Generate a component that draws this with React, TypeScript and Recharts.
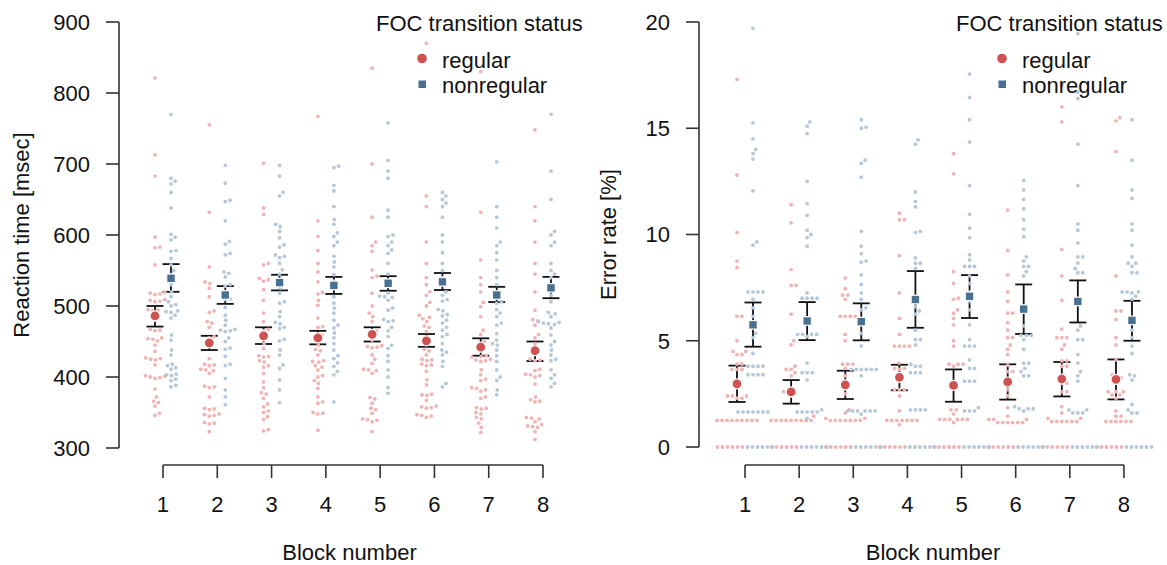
import React from 'react';
import { ComposedChart, Scatter, XAxis, YAxis, ErrorBar, ReferenceLine, Legend } from 'recharts';

const FONT = '"Liberation Sans", Arial, Helvetica, sans-serif';
const RED = '#cf5151';
const BLUE = '#4a7091';
const PINK = '#f0b4b4';
const SKY = '#b6c8d8';
const AXIS = '#333333';
const TEXT = '#111111';
const FS = 22;

const blocks = [1, 2, 3, 4, 5, 6, 7, 8];
const rtTicks = [300, 400, 500, 600, 700, 800, 900];
const errTicks = [0, 5, 10, 15, 20];

// reaction time per participant, one row per block
const rtRegular = [
  [821, 713, 683, 597, 583, 582, 558, 519, 518, 517, 516, 509, 508, 507, 506, 495, 494, 493, 487, 480, 467, 466, 465, 455, 454, 453, 451, 445, 436, 427, 426, 425, 424, 417, 402, 401, 400, 399, 398, 383, 372, 366, 364, 359, 349, 346],
  [755, 632, 555, 534, 532, 525, 513, 493, 491, 478, 476, 470, 457, 455, 447, 426, 418, 417, 416, 411, 410, 409, 405, 387, 386, 385, 372, 356, 355, 354, 348, 347, 346, 345, 336, 335, 334, 323],
  [701, 638, 629, 560, 558, 539, 537, 535, 523, 508, 490, 478, 467, 465, 455, 447, 440, 430, 429, 428, 423, 421, 416, 414, 405, 393, 385, 378, 376, 370, 362, 358, 352, 350, 344, 340, 326, 324],
  [767, 620, 598, 578, 560, 548, 534, 519, 517, 508, 501, 483, 471, 470, 459, 455, 445, 439, 437, 431, 423, 422, 421, 416, 414, 410, 402, 400, 395, 391, 384, 372, 365, 363, 350, 349, 348, 325],
  [835, 700, 625, 590, 585, 577, 551, 542, 540, 518, 500, 490, 485, 478, 465, 462, 452, 444, 443, 442, 441, 431, 425, 419, 411, 410, 409, 405, 371, 369, 363, 356, 354, 349, 341, 340, 339, 337, 323],
  [870, 655, 640, 590, 560, 540, 530, 520, 515, 505, 500, 487, 484, 482, 478, 472, 470, 464, 452, 439, 437, 431, 425, 424, 423, 418, 417, 416, 408, 396, 389, 376, 375, 374, 367, 359, 358, 357, 356, 347, 346, 345, 343],
  [830, 632, 565, 540, 530, 520, 505, 499, 485, 466, 460, 450, 445, 430, 429, 428, 425, 424, 423, 422, 410, 403, 397, 395, 385, 384, 382, 380, 372, 370, 357, 356, 355, 350, 348, 343, 341, 335, 329, 322],
  [748, 640, 620, 590, 560, 545, 520, 494, 481, 479, 473, 460, 455, 447, 438, 425, 424, 423, 411, 409, 404, 403, 402, 400, 390, 372, 368, 366, 365, 343, 342, 341, 337, 333, 331, 330, 329, 323, 312],
];
const rtNonregular = [
  [770, 680, 676, 672, 660, 638, 601, 597, 593, 578, 577, 567, 558, 550, 544, 535, 530, 520, 513, 506, 502, 500, 493, 492, 491, 487, 483, 459, 452, 438, 431, 418, 416, 413, 411, 404, 403, 402, 397, 395, 388, 386],
  [698, 673, 649, 647, 620, 591, 587, 574, 572, 548, 546, 541, 530, 528, 516, 510, 509, 498, 487, 480, 473, 467, 466, 465, 464, 455, 450, 441, 439, 429, 418, 416, 398, 382, 372, 361],
  [698, 683, 660, 655, 615, 612, 605, 596, 586, 583, 572, 570, 568, 560, 551, 545, 534, 525, 518, 506, 504, 492, 485, 477, 475, 470, 468, 453, 451, 438, 431, 417, 412, 396, 382, 364],
  [697, 695, 670, 662, 640, 622, 615, 603, 598, 590, 585, 570, 562, 555, 544, 535, 525, 513, 504, 497, 490, 480, 473, 469, 462, 455, 447, 438, 430, 426, 420, 415, 408, 403, 365],
  [758, 705, 690, 680, 635, 625, 600, 598, 590, 585, 579, 574, 560, 545, 532, 518, 514, 513, 512, 508, 497, 494, 481, 479, 478, 470, 465, 457, 445, 440, 430, 422, 410, 400, 385, 377],
  [660, 655, 650, 645, 640, 625, 600, 590, 575, 560, 550, 540, 530, 520, 515, 509, 507, 495, 493, 488, 486, 480, 476, 470, 466, 460, 457, 447, 438, 435, 431, 422, 415, 391, 386],
  [703, 640, 625, 610, 590, 585, 575, 565, 550, 540, 530, 520, 515, 506, 504, 495, 490, 485, 476, 473, 461, 452, 447, 445, 438, 430, 422, 410, 400, 395, 382, 375],
  [770, 690, 650, 605, 600, 590, 585, 560, 550, 545, 540, 525, 515, 506, 491, 489, 485, 478, 477, 476, 475, 474, 469, 459, 450, 445, 438, 431, 425, 423, 410, 403, 398, 391, 386],
];
const rtRegularMean = [486, 448, 458, 455, 460, 451, 442, 437];
const rtRegularLow = [471, 438, 446.5, 446, 450, 442.5, 430, 422.5];
const rtRegularHigh = [500, 458, 470, 465, 470, 460.5, 454.5, 450];
const rtNonregularMean = [539, 515.5, 533, 529, 532, 534, 515.5, 525.5];
const rtNonregularLow = [520, 503, 522, 517, 521.5, 522.5, 505.6, 511];
const rtNonregularHigh = [559, 528, 544, 541, 542, 546.5, 527, 541];

// error rate per participant, one row per block
const errRegular = [
  [17.3, 12.8, 10.1, 8.75, 8.45, 6.15, 6.15, 5.0, 4.5, 4.5, 4.35, 4.35, 3.9, 3.9, 3.65, 3.65, 3.65, 2.4, 2.4, 2.4, 2.3, 2.3, 1.25, 1.25, 1.25, 1.25, 1.25, 1.25, 1.25, 1.25, 1.25, 0, 0, 0, 0, 0, 0],
  [11.4, 10.55, 8.35, 7.6, 7.6, 6.25, 5.0, 4.8, 3.8, 3.65, 3.65, 3.5, 3.35, 2.6, 2.6, 2.55, 2.4, 1.45, 1.25, 1.25, 1.25, 1.25, 1.25, 1.25, 1.25, 1.25, 1.25, 0, 0, 0, 0, 0, 0],
  [7.95, 7.45, 7.15, 7.15, 6.95, 6.15, 6.15, 6.15, 6.15, 5.3, 5.0, 3.9, 3.9, 3.9, 3.7, 3.35, 2.5, 1.75, 1.6, 1.35, 1.35, 1.25, 1.25, 1.25, 1.25, 1.25, 1.25, 1.25, 0, 0, 0, 0, 0, 0],
  [11.0, 10.7, 10.7, 9.0, 7.25, 6.05, 5.3, 4.75, 4.75, 4.75, 4.75, 3.95, 3.7, 3.7, 3.65, 2.7, 2.7, 2.7, 2.4, 1.7, 1.25, 1.25, 1.25, 1.25, 1.25, 1.25, 1.25, 1.05, 0, 0, 0, 0, 0, 0],
  [13.8, 12.85, 8.25, 7.7, 7.0, 6.95, 6.45, 6.3, 6.05, 5.75, 5.0, 4.75, 3.9, 3.9, 3.9, 3.8, 1.75, 1.75, 1.55, 1.3, 1.3, 1.3, 1.3, 1.3, 1.3, 1.15, 0, 0, 0, 0, 0, 0],
  [11.15, 9.25, 8.1, 7.3, 6.85, 6.3, 6.3, 5.85, 5.5, 5.15, 5.15, 4.8, 4.6, 4.35, 3.85, 3.55, 3.55, 2.7, 2.4, 1.85, 1.45, 1.3, 1.3, 1.3, 1.15, 1.15, 1.15, 1.15, 1.15, 1.15, 0, 0, 0, 0, 0, 0],
  [17.0, 16.0, 15.3, 9.3, 8.05, 6.9, 5.55, 5.15, 5.15, 5.15, 4.8, 4.6, 4.05, 4.05, 3.8, 3.8, 3.0, 3.0, 2.6, 2.6, 1.9, 1.6, 1.35, 1.35, 1.2, 1.2, 1.2, 1.2, 1.2, 1.2, 0, 0, 0, 0, 0, 0],
  [15.5, 15.35, 13.9, 8.05, 6.4, 6.4, 6.0, 5.15, 4.8, 4.1, 3.4, 3.25, 3.25, 2.6, 2.6, 2.6, 2.45, 2.45, 2.3, 1.7, 1.45, 1.45, 1.2, 1.2, 1.2, 1.2, 1.2, 1.2, 0, 0, 0, 0, 0, 0],
];
const errNonregular = [
  [19.7, 15.25, 14.5, 14.0, 13.8, 13.55, 12.05, 9.65, 9.5, 7.3, 7.3, 7.3, 7.3, 6.95, 6.55, 6.15, 5.35, 5.15, 4.4, 3.8, 3.8, 3.8, 3.8, 3.4, 3.4, 3.4, 3.4, 1.65, 1.65, 1.65, 1.65, 1.65, 1.65, 1.65, 0, 0, 0, 0, 0, 0],
  [15.3, 15.1, 14.75, 12.5, 11.45, 10.9, 10.2, 10.0, 9.85, 9.45, 7.25, 7.0, 7.0, 7.0, 7.0, 5.3, 5.3, 5.3, 5.3, 5.2, 3.95, 3.5, 3.5, 3.5, 3.15, 1.75, 1.65, 1.65, 1.65, 1.65, 1.65, 1.35, 0, 0, 0, 0, 0, 0],
  [15.4, 15.05, 15.0, 13.5, 13.35, 12.7, 10.15, 9.45, 9.1, 8.75, 8.7, 8.1, 7.65, 7.25, 6.95, 6.55, 6.45, 5.35, 4.75, 3.65, 3.65, 3.65, 3.65, 3.65, 3.65, 3.35, 1.7, 1.7, 1.7, 1.7, 1.7, 1.7, 1.55, 0, 0, 0, 0, 0, 0],
  [14.45, 14.25, 12.0, 11.55, 11.3, 10.15, 10.1, 8.9, 8.65, 8.65, 8.4, 6.6, 6.4, 6.25, 5.5, 5.05, 5.05, 4.8, 3.9, 3.8, 3.8, 3.5, 3.5, 3.5, 1.75, 1.75, 1.75, 1.75, 0, 0, 0, 0, 0, 0],
  [17.55, 16.45, 15.4, 14.35, 12.3, 10.95, 10.3, 9.85, 9.05, 8.8, 8.5, 8.5, 8.5, 8.05, 7.7, 7.3, 6.85, 6.45, 5.75, 5.05, 4.75, 4.75, 4.75, 4.1, 3.7, 3.7, 3.1, 3.1, 3.1, 1.85, 1.7, 1.7, 1.7, 0, 0, 0, 0, 0, 0],
  [12.55, 12.1, 11.65, 11.2, 10.7, 10.25, 9.9, 8.95, 8.75, 8.5, 8.5, 8.25, 8.05, 5.7, 5.25, 5.25, 5.25, 5.05, 4.6, 3.95, 3.95, 3.7, 3.55, 3.35, 3.35, 1.9, 1.8, 1.8, 1.8, 1.7, 0, 0, 0, 0, 0, 0],
  [19.45, 16.7, 16.4, 14.25, 12.3, 10.5, 10.2, 9.6, 8.95, 8.95, 8.65, 8.4, 8.2, 8.2, 5.7, 5.5, 5.05, 5.05, 4.35, 3.95, 3.55, 3.35, 3.1, 1.75, 1.75, 1.6, 1.6, 1.6, 0, 0, 0, 0, 0, 0],
  [15.4, 13.5, 12.1, 11.7, 10.5, 10.2, 9.5, 8.95, 8.65, 8.65, 8.5, 8.2, 8.2, 7.3, 7.3, 7.3, 7.25, 7.1, 6.95, 6.0, 5.5, 5.15, 4.75, 4.4, 3.4, 3.35, 3.15, 2.0, 1.75, 1.6, 1.6, 0, 0, 0, 0, 0, 0],
];
const errRegularMean = [2.97, 2.59, 2.92, 3.28, 2.9, 3.06, 3.2, 3.18];
const errRegularLow = [2.12, 2.04, 2.26, 2.67, 2.13, 2.23, 2.38, 2.24];
const errRegularHigh = [3.83, 3.15, 3.59, 3.87, 3.65, 3.89, 4.0, 4.12];
const errNonregularMean = [5.75, 5.93, 5.9, 6.94, 7.09, 6.49, 6.85, 5.96];
const errNonregularLow = [4.72, 5.03, 5.02, 5.61, 6.07, 5.32, 5.86, 5.0];
const errNonregularHigh = [6.8, 6.82, 6.76, 8.28, 8.09, 7.65, 7.84, 6.88];

// layout
const H = 565;
const PLOT_TOP = 22;
const PLOT_BOTTOM = 465;
const Y_AXIS_W = 119;
const DOT_R = 1.9;
const DOT_GAP = 5;
const SIDE_PX = 8;

// beeswarm: each point goes as close to the centre as it can without overlapping
function swarm(values: number[], yPx: number): number[] {
  const placed: { x: number; y: number }[] = [];
  const out: number[] = new Array(values.length).fill(0);
  const order = values.map((_, i) => i).sort((a, b) => values[a] - values[b]);
  for (const i of order) {
    const y = values[i] * yPx;
    const cands = [0];
    for (const p of placed) {
      const dy = Math.abs(p.y - y);
      if (dy < DOT_GAP) {
        const dx = Math.sqrt(DOT_GAP * DOT_GAP - dy * dy);
        cands.push(p.x + dx, p.x - dx);
      }
    }
    cands.sort((a, b) => Math.abs(a) - Math.abs(b));
    const x = cands.find((c) => placed.every((p) => (p.x - c) ** 2 + (p.y - y) ** 2 >= DOT_GAP * DOT_GAP - 0.01)) ?? 0;
    placed.push({ x, y });
    out[i] = x;
  }
  return out;
}

function dots(groups: number[][], sidePx: number, zeroShiftPx: number, xPx: number, yPx: number) {
  const out: { x: number; y: number }[] = [];
  groups.forEach((vals, b) => {
    const offs = swarm(vals, yPx);
    vals.forEach((v, i) => {
      const px = sidePx + offs[i] + (v === 0 ? zeroShiftPx : 0);
      out.push({ x: blocks[b] + px / xPx, y: v });
    });
  });
  return out;
}

function means(mean: number[], lo: number[], hi: number[], sidePx: number, xPx: number) {
  return mean.map((m, i) => ({ x: blocks[i] + sidePx / xPx, y: m, err: [m - lo[i], hi[i] - m] }));
}

const dotShape = (fill: string) => (props: any) => <circle cx={props.cx} cy={props.cy} r={DOT_R} fill={fill} />;
const circleShape = (props: any) => (
  <circle cx={props.cx} cy={props.cy} r={5} fill={RED} stroke="#fff" strokeWidth={1.2} />
);
const squareShape = (props: any) => (
  <rect x={props.cx - 4.3} y={props.cy - 4.3} width={8.6} height={8.6} fill={BLUE} stroke="#fff" strokeWidth={1.2} />
);

type PanelProps = {
  width: number;
  xDomain: [number, number];
  yDomain: [number, number];
  yTicks: number[];
  yTitle: string;
  yTitleX: number;
  reg: number[][];
  non: number[][];
  regMean: number[];
  regLow: number[];
  regHigh: number[];
  nonMean: number[];
  nonLow: number[];
  nonHigh: number[];
  zeroShift: [number, number];
};

function Panel(p: PanelProps) {
  const xPx = (p.width - Y_AXIS_W) / (p.xDomain[1] - p.xDomain[0]);
  const yPx = (PLOT_BOTTOM - PLOT_TOP) / (p.yDomain[1] - p.yDomain[0]);
  const regDots = dots(p.reg, -SIDE_PX, p.zeroShift[0], xPx, yPx);
  const nonDots = dots(p.non, SIDE_PX, p.zeroShift[1], xPx, yPx);
  const regMeans = means(p.regMean, p.regLow, p.regHigh, -SIDE_PX, xPx);
  const nonMeans = means(p.nonMean, p.nonLow, p.nonHigh, SIDE_PX, xPx);
  const tickStyle = { fill: TEXT, fontSize: FS, fontFamily: FONT };
  const yTop = p.yTicks[p.yTicks.length - 1];
  const yMidPx = PLOT_TOP + (p.yDomain[1] - yTop) * yPx + ((yTop - p.yTicks[0]) * yPx) / 2;

  return (
    <ComposedChart
      width={p.width}
      height={H}
      margin={{ top: PLOT_TOP, right: 0, bottom: 0, left: 0 }}
      style={{ overflow: 'visible' }}
    >
      <XAxis
        type="number"
        dataKey="x"
        domain={p.xDomain}
        allowDataOverflow
        ticks={blocks}
        interval={0}
        axisLine={false}
        tickSize={13}
        tickMargin={18}
        tickLine={{ stroke: AXIS, strokeWidth: 1.6 }}
        tick={tickStyle}
        height={H - PLOT_BOTTOM}
        label={{
          content: () => (
            <text x={(Y_AXIS_W + p.width) / 2} y={560} textAnchor="middle" fontSize={FS} fontFamily={FONT} fill={TEXT}>
              Block number
            </text>
          ),
        }}
      />
      <YAxis
        type="number"
        dataKey="y"
        domain={p.yDomain}
        allowDataOverflow
        ticks={p.yTicks}
        interval={0}
        width={Y_AXIS_W}
        axisLine={false}
        tickSize={13}
        tickMargin={16}
        tickLine={{ stroke: AXIS, strokeWidth: 1.6 }}
        tick={tickStyle}
        label={{
          content: () => (
            <text
              x={p.yTitleX}
              y={yMidPx}
              transform={`rotate(-90 ${p.yTitleX} ${yMidPx})`}
              textAnchor="middle"
              dominantBaseline="central"
              fontSize={FS}
              fontFamily={FONT}
              fill={TEXT}
            >
              {p.yTitle}
            </text>
          ),
        }}
      />
      <ReferenceLine
        segment={[{ x: p.xDomain[0], y: p.yTicks[0] }, { x: p.xDomain[0], y: yTop }]}
        stroke={AXIS}
        strokeWidth={1.6}
        ifOverflow="visible"
      />
      <ReferenceLine
        segment={[{ x: blocks[0], y: p.yDomain[0] }, { x: blocks[blocks.length - 1], y: p.yDomain[0] }]}
        stroke={AXIS}
        strokeWidth={1.6}
        ifOverflow="visible"
      />
      <Scatter data={regDots} shape={dotShape(PINK)} isAnimationActive={false} />
      <Scatter data={nonDots} shape={dotShape(SKY)} isAnimationActive={false} />
      <Scatter data={regMeans} shape={circleShape} isAnimationActive={false}>
        <ErrorBar dataKey="err" direction="y" width={8.5} strokeWidth={1.8} stroke="#111" />
      </Scatter>
      <Scatter data={nonMeans} shape={squareShape} isAnimationActive={false}>
        <ErrorBar dataKey="err" direction="y" width={8.5} strokeWidth={1.8} stroke="#111" />
      </Scatter>
      <Legend
        layout="vertical"
        align="center"
        verticalAlign="middle"
        wrapperStyle={{ top: 0, left: 0, width: p.width, height: 100, pointerEvents: 'none', overflow: 'visible' }}
        content={() => (
          <svg width={p.width} height={100} style={{ display: 'block', overflow: 'visible' }}>
            <text x={376} y={31} fontSize={FS} fontFamily={FONT} fill={TEXT}>FOC transition status</text>
            <circle cx={422} cy={58.5} r={4.8} fill={RED} />
            <text x={442} y={68} fontSize={FS} fontFamily={FONT} fill={TEXT}>regular</text>
            <rect x={418.5} y={80.5} width={7.5} height={7.5} fill={BLUE} />
            <text x={442} y={93} fontSize={FS} fontFamily={FONT} fill={TEXT}>nonregular</text>
          </svg>
        )}
      />
    </ComposedChart>
  );
}

export default function App() {
  return (
    <div style={{ position: 'absolute', left: 0, top: 0, width: 1167, height: H, background: '#fff' }}>
      <div style={{ position: 'absolute', left: 580, top: 0 }}>
        <Panel
          width={587}
          xDomain={[0.1503, 8.795]}
          yDomain={[-0.847, 20]}
          yTicks={errTicks}
          yTitle="Error rate [%]"
          yTitleX={29}
          reg={errRegular}
          non={errNonregular}
          regMean={errRegularMean}
          regLow={errRegularLow}
          regHigh={errRegularHigh}
          nonMean={errNonregularMean}
          nonLow={errNonregularLow}
          nonHigh={errNonregularHigh}
          zeroShift={[-9.5, 4.5]}
        />
      </div>
      <div style={{ position: 'absolute', left: 0, top: 0 }}>
        <Panel
          width={580}
          xDomain={[0.1895, 8.6815]}
          yDomain={[276.06, 900]}
          yTicks={rtTicks}
          yTitle="Reaction time [msec]"
          yTitleX={22}
          reg={rtRegular}
          non={rtNonregular}
          regMean={rtRegularMean}
          regLow={rtRegularLow}
          regHigh={rtRegularHigh}
          nonMean={rtNonregularMean}
          nonLow={rtNonregularLow}
          nonHigh={rtNonregularHigh}
          zeroShift={[0, 0]}
        />
      </div>
    </div>
  );
}
